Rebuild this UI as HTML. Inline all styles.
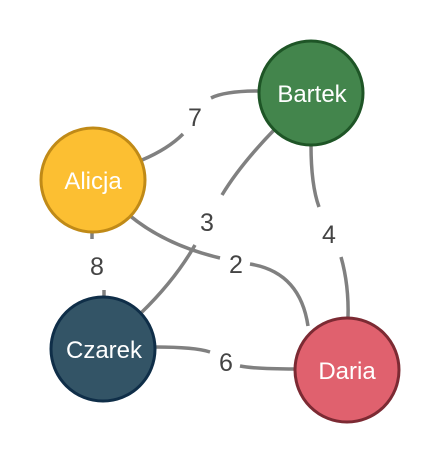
<!DOCTYPE html>
<html><head><style>html,body{margin:0;padding:0;background:#fff;width:440px;height:463px;overflow:hidden}</style></head>
<body>
<svg width="440" height="463" viewBox="0 0 440 463" xmlns="http://www.w3.org/2000/svg" font-family="'Liberation Sans', sans-serif">
<g fill="none" stroke="#808080" stroke-width="3.5">
<path d="M142 160 Q168 149 183 134"/>
<path d="M211 98 Q225 91 258 91"/>
<path d="M275 129 Q240 165 222 195"/>
<path d="M195 245 Q175 280 141 313"/>
<path d="M311 145 Q311 185 319 207"/>
<path d="M341 257 Q349 285 348 318"/>
<path d="M129 215 Q165 245 220 258"/>
<path d="M250 264 Q300 272 308 326"/>
<path d="M92 230 L92 239"/>
<path d="M104 290 L104 297"/>
<path d="M155 347 Q195 347 210 352"/>
<path d="M240 366 Q255 369 295 369"/>
</g>
<g fill="#444" font-size="25" text-anchor="middle">
<text x="195" y="126">7</text>
<text x="207" y="231">3</text>
<text x="329" y="243">4</text>
<text x="236" y="273">2</text>
<text x="97" y="275">8</text>
<text x="226" y="371">6</text>
</g>
<circle cx="311" cy="93" r="52" fill="#43854c" stroke="#1e5526" stroke-width="3"/>
<circle cx="93" cy="180" r="52" fill="#fcbf32" stroke="#c08a17" stroke-width="3"/>
<circle cx="103" cy="349" r="52" fill="#335466" stroke="#0f2e48" stroke-width="3"/>
<circle cx="347" cy="370" r="52" fill="#e0616e" stroke="#7c2a33" stroke-width="3"/>
<g fill="#fff" font-size="24" text-anchor="middle">
<text x="312" y="102">Bartek</text>
<text x="93" y="189">Alicja</text>
<text x="104" y="358">Czarek</text>
<text x="347" y="379">Daria</text>
</g>
</svg>
</body></html>
